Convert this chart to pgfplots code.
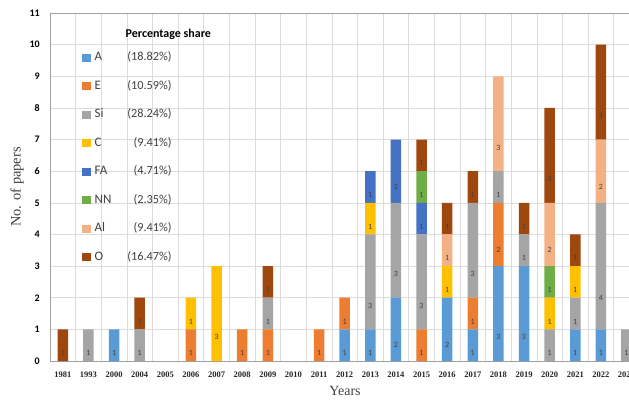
\documentclass[border=0pt]{standalone}
\usepackage{pgfplots}
\pgfplotsset{compat=1.18}
\usepackage{pgfplotstable}
\usepackage{fontspec}
\setmainfont{Liberation Serif}
\newfontfamily\calf{Carlito}

\definecolor{cA}{HTML}{5B9BD5}
\definecolor{cE}{HTML}{ED7D31}
\definecolor{cSi}{HTML}{A5A5A5}
\definecolor{cC}{HTML}{FFC000}
\definecolor{cFA}{HTML}{4472C4}
\definecolor{cNN}{HTML}{70AD47}
\definecolor{cAl}{HTML}{F4B183}
\definecolor{cO}{HTML}{9E480E}
\definecolor{gridc}{HTML}{DCDCDC}
\definecolor{axc}{HTML}{A0A0A0}
\definecolor{txt}{HTML}{404040}

\pgfplotstableread{
year A E Si C FA NN Al O
1981 0 0 0 0 0 0 0 1
1993 0 0 1 0 0 0 0 0
2000 1 0 0 0 0 0 0 0
2004 0 0 1 0 0 0 0 1
2005 0 0 0 0 0 0 0 0
2006 0 1 0 1 0 0 0 0
2007 0 0 0 3 0 0 0 0
2008 0 1 0 0 0 0 0 0
2009 0 1 1 0 0 0 0 1
2010 0 0 0 0 0 0 0 0
2011 0 1 0 0 0 0 0 0
2012 1 1 0 0 0 0 0 0
2013 1 0 3 1 1 0 0 0
2014 2 0 3 0 2 0 0 0
2015 0 1 3 0 1 1 0 1
2016 2 0 0 1 0 0 1 1
2017 1 1 3 0 0 0 0 1
2018 3 2 1 0 0 0 3 0
2019 3 0 1 0 0 0 0 1
2020 0 0 1 1 0 1 2 3
2021 1 0 1 1 0 0 0 1
2022 1 0 4 0 0 0 2 3
2023 0 0 1 0 0 0 0 0
}\data

\pgfplotsset{
  seg/.style={fill=#1, draw=none,
    legend image code/.code={\fill[fill=#1] (0pt,-4.2pt) rectangle (8.4pt,4.2pt);}},
}
\newcommand{\lent}[2]{\makebox[31pt][l]{\fontsize{13}{13}\selectfont #1}\makebox[46pt][r]{\fontsize{12.3}{12.3}\selectfont #2}}

\begin{document}
\begin{tikzpicture}
\begin{axis}[
  at={(50pt,39pt)}, anchor=south west,
  scale only axis, width=589.3pt, height=348pt,
  ybar stacked, bar width=10.5pt,
  xmin=-0.5, xmax=22.5, ymin=0, ymax=11,
  xtick={0,...,22},
  xticklabels from table={\data}{year},
  minor xtick={-0.5,0.5,...,22.5},
  ytick={0,...,11},
  xminorgrids=true, ymajorgrids=true, xmajorgrids=false,
  grid style={gridc, line width=0.6pt},
  minor grid style={gridc, line width=0.6pt},
  axis line style={axc, line width=0.9pt},
  major tick length=0pt, minor tick length=0pt,
  /pgf/number format/assume math mode=true,
  yticklabel style={font=\calf\bfseries\fontsize{10}{10}\selectfont, anchor=east, inner sep=0pt, xshift=-10pt, text=black},
  xticklabel style={font=\bfseries\fontsize{8.5}{8.5}\selectfont, anchor=north, inner sep=0pt, yshift=-10.5pt, text=black!85},
  ylabel={No. of papers},
  ylabel style={at={(axis description cs:-0.056,0.5)}, anchor=center, font=\fontsize{14.5}{14.5}\selectfont, text=txt},
  xlabel={Years},
  xlabel style={at={(axis description cs:0.5006,-0.086)}, anchor=center, font=\fontsize{14}{14}\selectfont, text=txt},
  nodes near coords={\pgfmathfloatifflags{\pgfplotspointmeta}{0}{}{\pgfmathprintnumber{\pgfplotspointmeta}}},
  every node near coord/.append style={anchor=center, font=\calf\fontsize{8}{8}\selectfont, text=txt,
     shift={(axis direction cs:0,-\rawy/4)}},
  point meta=explicit,
  legend style={at={(rel axis cs:0.0545,0.971)}, anchor=north west, draw=none, fill=none,
     inner sep=0pt, row sep=16.5pt, font=\calf, text=txt,
     nodes={inner sep=0pt, text height=9pt, text depth=3pt},
     /tikz/every odd column/.append style={column sep=4pt}},
  legend cell align=left,
]
\addlegendimage{empty legend}
\addlegendentry{\hspace{31pt}\raisebox{-5pt}{\textcolor{black}{\bfseries\fontsize{12}{12}\selectfont Percentage share}}}
\addplot+[seg=cA,  visualization depends on={\thisrow{A}\as\rawy}]  table[x expr=\coordindex, y=A,  meta=A]{\data};
\addlegendentry{\lent{A}{(18.82\%)}}
\addplot+[seg=cE,  visualization depends on={\thisrow{E}\as\rawy}]  table[x expr=\coordindex, y=E,  meta=E]{\data};
\addlegendentry{\lent{E}{(10.59\%)}}
\addplot+[seg=cSi, visualization depends on={\thisrow{Si}\as\rawy}] table[x expr=\coordindex, y=Si, meta=Si]{\data};
\addlegendentry{\lent{Si}{(28.24\%)}}
\addplot+[seg=cC,  visualization depends on={\thisrow{C}\as\rawy}]  table[x expr=\coordindex, y=C,  meta=C]{\data};
\addlegendentry{\lent{C}{(9.41\%)}}
\addplot+[seg=cFA, visualization depends on={\thisrow{FA}\as\rawy}] table[x expr=\coordindex, y=FA, meta=FA]{\data};
\addlegendentry{\lent{FA}{(4.71\%)}}
\addplot+[seg=cNN, visualization depends on={\thisrow{NN}\as\rawy}] table[x expr=\coordindex, y=NN, meta=NN]{\data};
\addlegendentry{\lent{NN}{(2.35\%)}}
\addplot+[seg=cAl, visualization depends on={\thisrow{Al}\as\rawy}] table[x expr=\coordindex, y=Al, meta=Al]{\data};
\addlegendentry{\lent{Al}{(9.41\%)}}
\addplot+[seg=cO,  visualization depends on={\thisrow{O}\as\rawy}]  table[x expr=\coordindex, y=O,  meta=O]{\data};
\addlegendentry{\lent{O}{(16.47\%)}}
\end{axis}
\pgfresetboundingbox
\useasboundingbox (0,0) rectangle (629pt,400pt);
\end{tikzpicture}
\end{document}
